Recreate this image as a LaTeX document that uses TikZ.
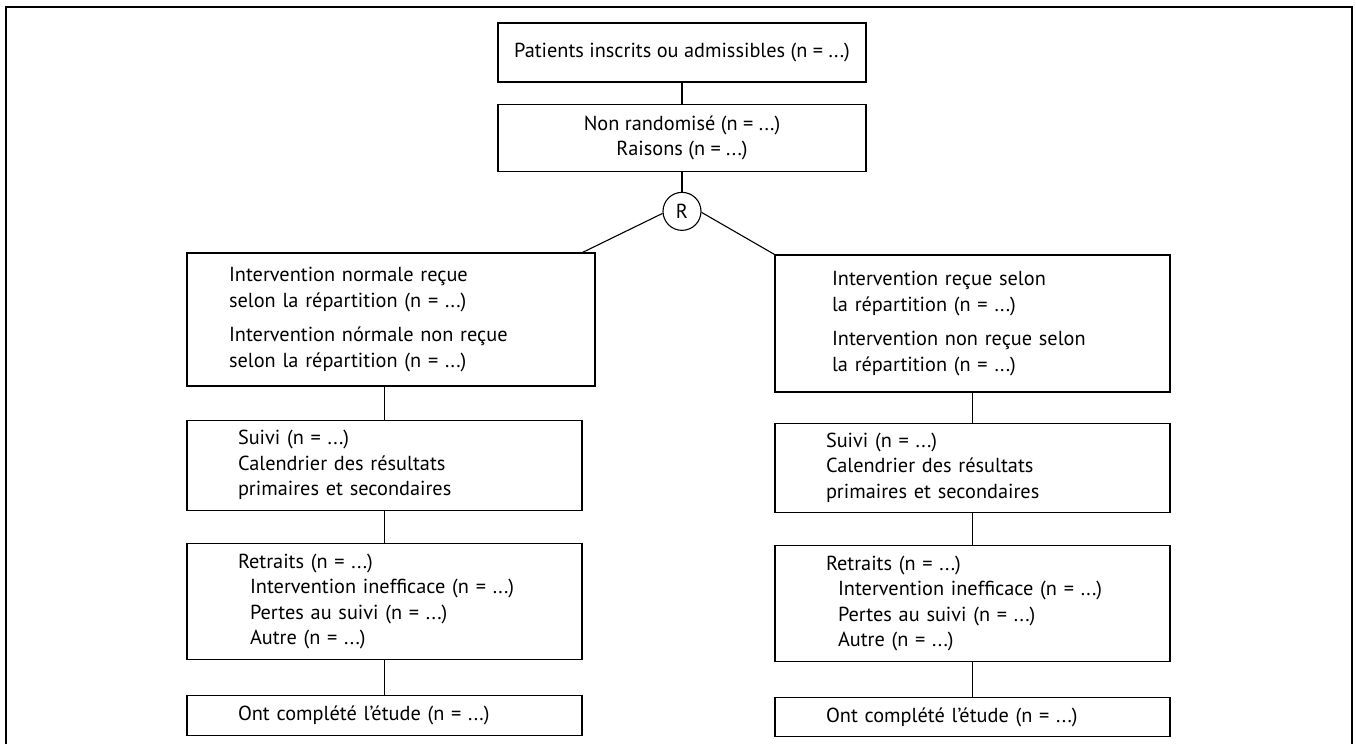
\documentclass[tikz,border=0pt]{standalone}
\usepackage{fontspec}
\setmainfont{PT Sans}
\usetikzlibrary{positioning}

\begin{document}
\begin{tikzpicture}[x=1pt,y=-1pt,line width=1.1pt,auto,node distance=32pt,
                    box node/.style={rectangle,draw,line width=1.2pt,inner sep=0pt,
                      font=\fontsize{20.3}{25.5}\selectfont},
                    mid node/.style={box node,align=center,minimum width=368pt},
                    list node/.style={box node,align=left,inner xsep=51pt,text width=293pt},
                    tirage node/.style={circle,draw,minimum size=38pt,inner sep=0pt,
                      font=\fontsize{20.3}{22}\selectfont}]

  \useasboundingbox (0,0) rectangle (1356,744);
  \draw[line width=2pt] (6,744) -- (6,7) -- (1352,7) -- (1352,744);

  \node[mid node,minimum height=59pt] (pat) at (682,52.5) {Patients inscrits ou admissibles (n = ...)};
  \node[mid node,minimum height=67pt] (nonr) [below=21pt of pat] {Non randomisé (n = ...)\\Raisons (n = ...)};
  \node[tirage node] (R) [below=20pt of nonr] {R};

  % bras gauche
  \node[list node,inner xsep=42pt,text width=324pt,minimum height=133pt] (iL) at (391,319.5)
    {Intervention normale reçue\\selon la répartition (n = ...)\\[9pt]
     Intervention nórmale non reçue\\selon la répartition (n = ...)};
  \node[list node,minimum height=90pt] (sL) [below right=33pt and 0pt of iL.south west]
    {Suivi (n = ...)\\Calendrier des résultats\\primaires et secondaires};
  \node[list node,minimum height=116pt] (rL) [below=32pt of sL]
    {Retraits (n = ...)\\\hspace*{12pt}Intervention inefficace (n = ...)\\
     \hspace*{12pt}Pertes au suivi (n = ...)\\\hspace*{12pt}Autre (n = ...)};
  \node[list node,minimum height=40pt] (oL) [below=35pt of rL] {Ont complété l’étude (n = ...)};

  % bras droit
  \node[list node,inner xsep=57pt,text width=281pt,minimum height=137pt] (iR) at (972.5,323.5)
    {Intervention reçue selon\\la répartition (n = ...)\\[9pt]
     Intervention non reçue selon\\la répartition (n = ...)};
  \node[list node,minimum height=89pt] (sR) [below=30pt of iR]
    {Suivi (n = ...)\\Calendrier des résultats\\primaires et secondaires};
  \node[list node,minimum height=116pt] (rR) [below=32pt of sR]
    {Retraits (n = ...)\\\hspace*{12pt}Intervention inefficace (n = ...)\\
     \hspace*{12pt}Pertes au suivi (n = ...)\\\hspace*{12pt}Autre (n = ...)};
  \node[list node,minimum height=39pt] (oR) [below=35pt of rR] {Ont complété l’étude (n = ...)};

  \path
    (pat) edge (nonr)
    (nonr) edge (R)
    (R.186) edge ([xshift=-13pt]iL.north east)
    (R.-3) edge (iR.north west)
    (iL.south -| sL.north) edge (sL)
    (sL) edge (rL)
    (rL) edge (oL)
    (iR.south -| sR.north) edge (sR)
    (sR) edge (rR)
    (rR) edge (oR);
\end{tikzpicture}
\end{document}
